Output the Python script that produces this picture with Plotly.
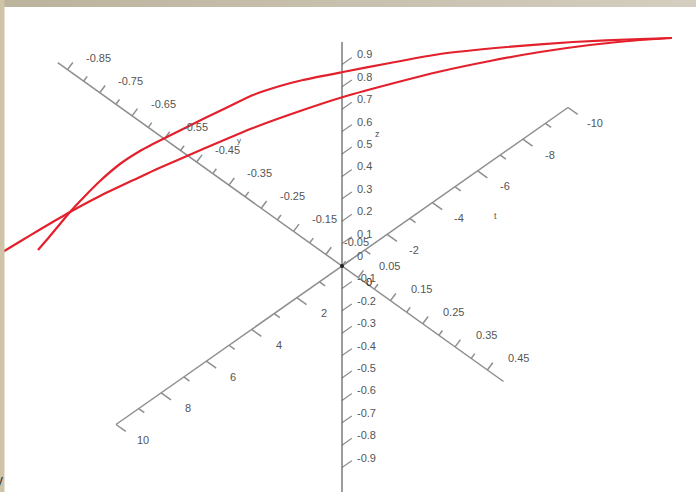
import numpy as np
import plotly.graph_objects as go

W, H = 696, 492

# Oblique projection of the (x, t, z) scene onto the page
ORIGIN = (342.0, 266.0)
EX = (323.0, 231.0)     # one unit of x
ET = (-22.6, 15.85)     # one unit of t
EZ = (0.0, -224.0)      # one unit of z


def proj(x, t, z):
    return (ORIGIN[0] + EX[0] * x + ET[0] * t + EZ[0] * z,
            ORIGIN[1] + EX[1] * x + ET[1] * t + EZ[1] * z)


# Axis extents
x_range = (-0.88, 0.50)
t_range = (-10.0, 10.0)
z_range = (-1.0, 1.0)

# Tick labels
x_tick_labels = ["-0.85", "-0.75", "-0.65", "-0.55", "-0.45", "-0.35", "-0.25",
                 "-0.15", "-0.05", "0.05", "0.15", "0.25", "0.35", "0.45"]
t_tick_labels = ["-10", "-8", "-6", "-4", "-2", "0", "2", "4", "6", "8", "10"]
z_tick_labels = ["0.9", "0.8", "0.7", "0.6", "0.5", "0.4", "0.3", "0.2", "0.1", "0",
                 "-0.1", "-0.2", "-0.3", "-0.4", "-0.5", "-0.6", "-0.7", "-0.8", "-0.9"]

# Two curves, sampled in the t = 0 plane as (x, z)
curve_a_x = [-0.9412, -0.9040, -0.8731, -0.8421, -0.7957, -0.7492, -0.6873, -0.6254,
             -0.5542, -0.4861, -0.4241, -0.3467, -0.2755, -0.1920, -0.1207, 0.0031,
             0.1486, 0.3034, 0.5108, 0.7152, 0.9226, 1.0217]
curve_a_z = [-0.8992, -0.7984, -0.7129, -0.6274, -0.5080, -0.3932, -0.2534, -0.1315,
             -0.0046, 0.1148, 0.2233, 0.3567, 0.4793, 0.6056, 0.7058, 0.8693,
             1.0595, 1.2593, 1.5045, 1.7375, 1.9648, 2.0714]

curve_b_x = [-1.0557, -0.9969, -0.9350, -0.8421, -0.7492, -0.6254, -0.5728, -0.4303,
             -0.2755, -0.1207, 0.0031, 0.1796, 0.3034, 0.4582, 0.6130, 0.7678, 0.9226,
             1.0217]
curve_b_z = [-1.0307, -0.9187, -0.8013, -0.6274, -0.4601, -0.2476, -0.1576, 0.0785,
             0.3320, 0.5719, 0.7577, 1.0088, 1.1812, 1.3877, 1.5875, 1.7784, 1.9604,
             2.0714]

AXIS_GREY = "#8e8e8e"
Z_AXIS = "#5a5a5a"
TEXT = "#555555"
FONT = "Liberation Sans"
CURVE_RED = "#e3202c"

fig = go.Figure()


def seg_trace(segs, color, width):
    xs, ys = [], []
    for (a, b) in segs:
        xs += [a[0], b[0], None]
        ys += [a[1], b[1], None]
    return go.Scatter(x=xs, y=ys, mode="lines", hoverinfo="skip",
                      line=dict(color=color, width=width), showlegend=False)


def unit(v):
    n = (v[0] ** 2 + v[1] ** 2) ** 0.5
    return (v[0] / n, v[1] / n)


annotations = []


def label(x, y, text, size=11, xanchor="center", color=TEXT):
    annotations.append(dict(x=x, y=y, text=text, showarrow=False, xanchor=xanchor,
                            yanchor="middle", font=dict(family=FONT, size=size, color=color),
                            borderpad=0))


# ---- x axis (diagonal, upper-left to lower-right)
x_segs = [(proj(x_range[0], 0, 0), proj(x_range[1], 0, 0))]
x_tick_dir = (0.6, -0.8)
x_vals = np.round(np.arange(-0.85, 0.5, 0.05), 2)
labelled = set(float(s) for s in x_tick_labels)
for v in x_vals:
    p = proj(v, 0, 0)
    ln = 9 if float(v) in labelled else 6
    x_segs.append((p, (p[0] + x_tick_dir[0] * ln, p[1] + x_tick_dir[1] * ln)))
for s in x_tick_labels:
    p = proj(float(s), 0, 0)
    label(p[0] + 31, p[1] - 12, s)

# ---- t axis (diagonal, lower-left to upper-right)
t_segs = [(proj(0, t_range[0], 0), proj(0, t_range[1], 0))]
t_tick_dir = unit(EX)
for v in range(-10, 11):
    if v == 0:
        continue
    p = proj(0, v, 0)
    ln = 12 if v % 2 == 0 else 7
    t_segs.append((p, (p[0] + t_tick_dir[0] * ln, p[1] + t_tick_dir[1] * ln)))
for s in t_tick_labels:
    p = proj(0, float(s), 0)
    label(p[0] + 27, p[1] + 15.5, s, color="#222222" if s == "0" else TEXT)

# ---- z axis (vertical)
z_segs = [(proj(0, 0, z_range[1]), proj(0, 0, z_range[0] - 0.02))]
z_tick_dir = unit((-ET[0], -ET[1]))
z_ticks = []
for s in z_tick_labels:
    p = proj(0, 0, float(s))
    z_ticks.append((p, (p[0] + z_tick_dir[0] * 12, p[1] + z_tick_dir[1] * 12)))
    label(p[0] + 14, p[1] - 10, s, xanchor="left")

fig.add_trace(seg_trace(x_segs, AXIS_GREY, 1.5))
fig.add_trace(seg_trace(t_segs, AXIS_GREY, 1.5))
fig.add_trace(seg_trace(z_ticks, AXIS_GREY, 1.2))
fig.add_trace(seg_trace(z_segs, Z_AXIS, 1.2))

# origin dot
ox, oy = proj(0, 0, 0)
fig.add_trace(go.Scatter(x=[ox], y=[oy], mode="markers", hoverinfo="skip", showlegend=False,
                         marker=dict(size=4, color="#222222")))

# axis names
zx, zy = proj(0, 0, 0.6)
label(zx + 35, zy + 2, "z", size=9)
tx, ty = proj(0, -5, 0)
label(tx + 40, ty + 29, "t", size=9)
yx, yy = proj(-0.45, 0, 0)
label(yx + 42, yy - 22, "y", size=8)

# ---- the two curves
for cx, cz in ((curve_a_x, curve_a_z), (curve_b_x, curve_b_z)):
    pts = [proj(a, 0, b) for a, b in zip(cx, cz)]
    fig.add_trace(go.Scatter(x=[p[0] for p in pts], y=[p[1] for p in pts], mode="lines",
                             hoverinfo="skip", showlegend=False,
                             line=dict(color=CURVE_RED, width=2.2, shape="spline", smoothing=0.6)))

# ---- page frame: shaded top strip and left strip
shapes = []
n = 29
c0 = np.array([0xbd, 0xb4, 0x9e])
c1 = np.array([0xd4, 0xce, 0xc0])
for i in range(n):
    f = i / (n - 1)
    c = (c0 * (1 - f) + c1 * f).astype(int)
    shapes.append(dict(type="rect", xref="x", yref="y", x0=W * i / n, x1=W * (i + 1) / n + 0.5,
                       y0=0, y1=7, line=dict(width=0), fillcolor="rgb(%d,%d,%d)" % tuple(c),
                       layer="above"))
shapes.append(dict(type="rect", xref="x", yref="y", x0=0, x1=4.5, y0=0, y1=H,
                   line=dict(width=0), fillcolor="#cfc4a7", layer="above"))

# axis name partly hidden behind the left frame
label(4, 480, "y", size=14, xanchor="right", color="#333333")

fig.update_layout(
    width=W, height=H, autosize=False,
    margin=dict(l=0, r=0, t=0, b=0, pad=0),
    paper_bgcolor="white", plot_bgcolor="white",
    xaxis=dict(range=[0, W], visible=False, fixedrange=True),
    yaxis=dict(range=[H, 0], visible=False, fixedrange=True),
    shapes=shapes, annotations=annotations, showlegend=False,
)

fig.write_html("out.html", config={"displayModeBar": False})
